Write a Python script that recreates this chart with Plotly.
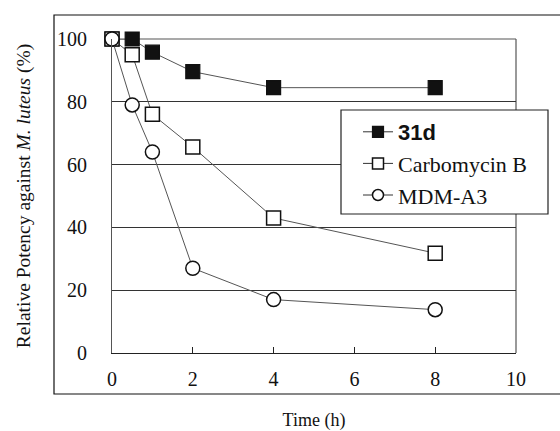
import plotly.graph_objects as go

time_h = [0, 0.5, 1, 2, 4, 8]
s31d = [100, 100, 95.8, 89.6, 84.5, 84.5]
carbomycin_b = [100, 95, 76, 65.6, 43, 31.8]
mdm_a3 = [100, 79, 64, 27, 17, 13.8]
series_names = ["<span style='font-family:Liberation Sans, Arial; font-weight:bold'>31d</span>",
                "Carbomycin B", "MDM-A3"]

x_ticks = [0, 2, 4, 6, 8, 10]
y_ticks = [0, 20, 40, 60, 80, 100]

marker_specs = [
    dict(symbol="square", color="#111111", line=dict(color="#111111", width=1.2)),
    dict(symbol="square", color="white", line=dict(color="#111111", width=1.5)),
    dict(symbol="circle", color="white", line=dict(color="#111111", width=1.5)),
]

fig = go.Figure()
line_style = dict(color="#555555", width=1)
for ys, name, ms in zip([s31d, carbomycin_b, mdm_a3], series_names, marker_specs):
    fig.add_trace(go.Scatter(
        x=time_h, y=ys, mode="lines+markers", name=name, showlegend=False,
        line=line_style, cliponaxis=False, marker=dict(size=14, **ms)))
# legend entries with smaller symbols
for i, (name, ms) in enumerate(zip(series_names, marker_specs)):
    fig.add_trace(go.Scatter(
        x=[None], y=[None], mode="lines+markers", name=name, legendgroup=f"g{i}",
        line=dict(color="#333333", width=1), marker=dict(size=11, **ms)))

W, H = 560, 431
L, R, T, B = 112, 44, 39, 78
pw, ph = W - L - R, H - T - B

def px_to_paper_x(px):
    return (px - L) / pw

def px_to_paper_y(py):
    return (H - B - py) / ph

fig.update_layout(
    width=W, height=H,
    margin=dict(l=L, r=R, t=T, b=B, pad=0, autoexpand=False),
    paper_bgcolor="white", plot_bgcolor="white",
    font=dict(family="Liberation Serif, Times New Roman, serif", size=20, color="#111111"),
    showlegend=True,
    legend=dict(
        x=px_to_paper_x(358), y=px_to_paper_y(111), xanchor="left", yanchor="top",
        bgcolor="rgba(0,0,0,0)", borderwidth=0,
        font=dict(family="Liberation Serif, Times New Roman, serif", size=22, color="#111111"),
        itemwidth=30, tracegroupgap=0, traceorder="grouped",
    ),
    xaxis=dict(
        range=[0, 10], tickvals=x_ticks, ticktext=[str(v) for v in x_ticks],
        showgrid=False, zeroline=False, automargin=False,
        showline=True, linecolor="#222222", linewidth=1.2,
        ticks="inside", ticklen=6, tickcolor="#222222", tickwidth=1,
        ticklabelstandoff=8,
        title=dict(text="Time (h)", font=dict(size=18), standoff=26),
        tickfont=dict(family="Liberation Serif, Times New Roman, serif", size=20),
    ),
    yaxis=dict(
        range=[0, 100], tickvals=y_ticks, ticktext=[str(v) for v in y_ticks],
        showgrid=True, gridcolor="#333333", gridwidth=1,
        zeroline=False, automargin=False,
        showline=True, linecolor="#555555", linewidth=1.2,
        ticks="", ticklabelstandoff=20,
        title=dict(text="Relative Potency against <i>M. luteus</i> (%)", font=dict(size=19.5), standoff=21),
        tickfont=dict(family="Liberation Serif, Times New Roman, serif", size=20),
    ),
    shapes=[
        dict(type="line", xref="paper", yref="paper", x0=1, x1=1, y0=0, y1=1,
             line=dict(color="#555555", width=1.2), layer="below"),
        dict(type="line", xref="paper", yref="paper", x0=0, x1=1, y0=1, y1=1,
             line=dict(color="#555555", width=1.2), layer="below"),
        dict(type="rect", xref="paper", yref="paper",
             x0=px_to_paper_x(54), x1=px_to_paper_x(575),
             y0=px_to_paper_y(394), y1=px_to_paper_y(15),
             line=dict(color="#111111", width=1.2), fillcolor="rgba(0,0,0,0)"),
        # legend box
        dict(type="rect", xref="paper", yref="paper", layer="above",
             x0=px_to_paper_x(341), x1=px_to_paper_x(548),
             y0=px_to_paper_y(214), y1=px_to_paper_y(110),
             line=dict(color="#222222", width=1.2), fillcolor="white"),
    ],
)

fig.write_html("out.html")
